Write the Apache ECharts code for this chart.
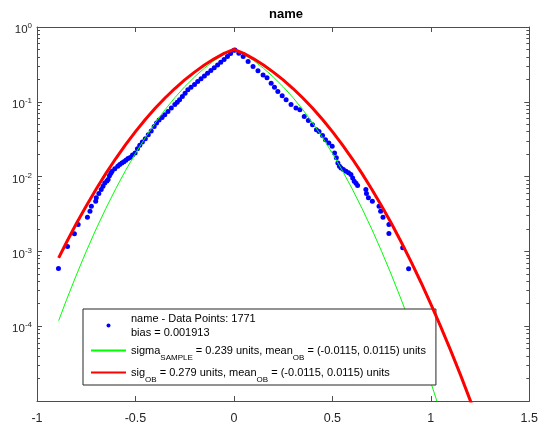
<!DOCTYPE html>
<html><head><meta charset="utf-8">
<script src="https://cdn.jsdelivr.net/npm/echarts@6/dist/echarts.min.js"></script>
<style>html,body{margin:0;padding:0;background:#fff}#c{width:541px;height:426px}</style>
</head><body><div id="c"></div>
<script>
// ---- data ----
const blueX = [-0.891,-0.845,-0.810,-0.791,-0.744,-0.731,-0.724,-0.702,-0.699,-0.686,-0.674,-0.665,-0.656,-0.645,-0.639,-0.632,-0.625,-0.619,-0.605,-0.590,-0.580,-0.569,-0.559,-0.549,-0.538,-0.527,-0.515,-0.502,-0.490,-0.478,-0.465,-0.450,-0.435,-0.420,-0.405,-0.393,-0.380,-0.365,-0.351,-0.335,-0.318,-0.300,-0.288,-0.276,-0.262,-0.248,-0.234,-0.218,-0.200,-0.184,-0.167,-0.150,-0.134,-0.117,-0.100,-0.083,-0.067,-0.050,-0.033,-0.017,0.000,
  0.005,0.025,0.047,0.072,0.097,0.122,0.148,0.168,0.189,0.206,0.223,0.245,0.265,0.290,0.315,0.335,0.357,0.378,0.399,0.419,0.432,0.450,0.465,0.482,0.499,0.511,0.520,0.528,0.536,0.544,0.556,0.569,0.582,0.594,0.603,0.611,0.620,0.628,0.670,0.673,0.683,0.703,0.737,0.745,0.757,0.787,0.787,0.857,0.887];
const blueY = [5.93e-4,1.16e-3,1.72e-3,2.29e-3,2.86e-3,3.45e-3,4.02e-3,4.69e-3,5.20e-3,5.93e-3,6.71e-3,7.41e-3,8.24e-3,8.71e-3,9.12e-3,1.03e-2,1.11e-2,1.18e-2,1.27e-2,1.37e-2,1.45e-2,1.52e-2,1.585e-2,1.65e-2,1.74e-2,1.80e-2,1.95e-2,2.07e-2,2.35e-2,2.62e-2,2.90e-2,3.20e-2,3.63e-2,4.07e-2,4.68e-2,5.20e-2,5.69e-2,6.17e-2,6.71e-2,7.41e-2,8.24e-2,9.23e-2,9.89e-2,0.1064,0.1175,0.1303,0.1445,0.1567,0.1706,0.1866,0.204,0.2213,0.2415,0.263,0.285,0.311,0.339,0.369,0.402,0.442,0.490,
  0.493,0.447,0.402,0.347,0.296,0.260,0.229,0.209,0.1774,0.1567,0.1374,0.1202,0.1064,0.0923,0.0824,0.0782,0.0637,0.0562,0.0493,0.0424,0.0402,0.0355,0.0311,0.0282,0.0254,0.0207,0.0178,0.0152,0.0138,0.01306,0.01245,0.01178,0.01122,0.01064,0.00955,0.00867,0.00813,0.00759,0.00671,0.00593,0.00520,0.00469,0.00402,0.00345,0.00287,0.00229,0.00174,0.00112,0.000587];

const greenX = [-0.89,-0.85,-0.80,-0.75,-0.70,-0.65,-0.60,-0.55,-0.50,-0.45,-0.40,-0.35,-0.30,-0.25,-0.20,-0.15,-0.10,-0.05,0,0.05,0.10,0.15,0.20,0.25,0.30,0.35,0.40,0.45,0.50,0.55,0.60,0.65,0.70,0.75,0.80,0.85,0.90,0.95,1.00,1.05];
const greenY = [1.187e-4,2.257e-4,4.84e-4,1.001e-3,1.986e-3,3.773e-3,6.897e-3,0.01211,0.02047,0.0332,0.0520,0.0783,0.1137,0.1591,0.2150,0.2810,0.3553,0.4355,0.5,0.4355,0.3553,0.2810,0.2150,0.1591,0.1137,0.0783,0.0520,0.0332,0.02047,0.01211,6.897e-3,3.773e-3,1.986e-3,1.001e-3,4.84e-4,2.257e-4,1.006e-4,4.30e-5,1.765e-5,6.95e-6];

const redX = [-0.89,-0.85,-0.80,-0.75,-0.70,-0.65,-0.60,-0.55,-0.50,-0.45,-0.40,-0.35,-0.30,-0.25,-0.20,-0.15,-0.10,-0.05,0,0.05,0.10,0.15,0.20,0.25,0.30,0.35,0.40,0.45,0.50,0.55,0.60,0.65,0.70,0.75,0.80,0.85,0.90,0.95,1.00,1.05,1.10,1.15,1.20,1.25];
const redY = [8.19e-4,1.326e-3,2.358e-3,4.056e-3,6.79e-3,0.01105,0.01745,0.02676,0.0399,0.0580,0.0819,0.1125,0.1505,0.1962,0.2495,0.3097,0.3754,0.4445,0.5,0.4445,0.3754,0.3097,0.2495,0.1962,0.1505,0.1125,0.0819,0.0580,0.0399,0.02676,0.01745,0.01105,6.79e-3,4.056e-3,2.358e-3,1.326e-3,7.24e-4,3.84e-4,1.977e-4,9.88e-5,4.78e-5,2.25e-5,1.02e-5,4.5e-6];

const xTickLabels = ['-1','-0.5','0','0.5','1','1.5'];
const titleText = 'name';
const blueName = 'name - Data Points: 1771';
const blueName2 = 'bias = 0.001913';
const greenName = 'sigmaSAMPLE';
const redName = 'sigOB';
const legendLabels = {};
legendLabels[blueName] = blueName + '\n' + blueName2;
legendLabels[greenName] = 'sigma{sub|SAMPLE} = 0.239 units, mean{sub|OB} = (-0.0115, 0.0115) units';
legendLabels[redName] = 'sig{sub|OB} = 0.279 units, mean{sub|OB} = (-0.0115, 0.0115) units';

// ---- chart ----
const font = '"Liberation Sans", Arial, Helvetica, sans-serif';
const axisCol = '#4d4d4d';
const labCol = '#262626';
const zip = (xs, ys) => xs.map((x, i) => [x, ys[i]]);
const minorExp = [];
for (let e = -5; e < 0; e++) for (let m = 2; m <= 9; m++) minorExp.push(e + Math.log10(m));

const chart = echarts.init(document.getElementById('c'));
const yMajorBase = {type:'log', logBase:10, min:1e-5, max:1, splitLine:{show:false}};
const yMinorBase = {type:'value', min:-5, max:0, splitLine:{show:false}, axisLine:{show:false, onZero:false}, axisLabel:{show:false},
  axisTick:{show:true, inside:true, length:3, customValues:minorExp, lineStyle:{color:axisCol}}};
chart.setOption({
  animation:false,
  backgroundColor:'#fff',
  title:{text:titleText, left:264, top:3,
    textStyle:{fontFamily:font, fontSize:13, fontWeight:'bold', color:'#000'}},
  grid:{left:37, right:6, top:27, bottom:25},
  xAxis:[
    {type:'value', min:-1, max:1.5, interval:0.5, position:'bottom', splitLine:{show:false},
     axisLine:{onZero:false, lineStyle:{color:axisCol}},
     axisTick:{inside:true, length:5, lineStyle:{color:axisCol}},
     axisLabel:{margin:11, color:labCol, fontSize:12.5, fontFamily:font,
       formatter:(v)=>xTickLabels[Math.round((v+1)/0.5)]}},
    {type:'value', min:-1, max:1.5, interval:0.5, position:'top', splitLine:{show:false},
     axisLine:{onZero:false, lineStyle:{color:axisCol}},
     axisTick:{inside:true, length:5, lineStyle:{color:axisCol}}, axisLabel:{show:false}}
  ],
  yAxis:[
    Object.assign({}, yMajorBase, {position:'left',
      axisLine:{show:true, onZero:false, lineStyle:{color:axisCol}},
      axisTick:{show:true, inside:true, length:5, lineStyle:{color:axisCol}},
      axisLabel:{showMinLabel:false, margin:5, color:labCol, fontSize:11.5, fontFamily:font, lineHeight:16, padding:[6,0,0,0],
        formatter:(v)=>'10{sup|' + Math.round(Math.log10(v)) + '}',
        rich:{sup:{fontSize:8, lineHeight:8, verticalAlign:'top', color:labCol, fontFamily:font}}}}),
    Object.assign({}, yMinorBase, {position:'left'}),
    Object.assign({}, yMajorBase, {position:'right',
      axisLine:{show:true, onZero:false, lineStyle:{color:axisCol}},
      axisTick:{show:true, inside:true, length:5, lineStyle:{color:axisCol}}, axisLabel:{show:false}}),
    Object.assign({}, yMinorBase, {position:'right'})
  ],
  legend:{
    orient:'vertical', left:83, top:309, itemWidth:35, itemHeight:4, itemGap:0,
    padding:[2.5,10,1.5,7], borderColor:'#262626', borderWidth:1, backgroundColor:'#fff',
    selectedMode:false,
    textStyle:{fontFamily:font, fontSize:11, color:'#000', lineHeight:22,
      rich:{sub:{fontSize:8, lineHeight:12, verticalAlign:'bottom', fontFamily:font, color:'#000'}}},
    data:[
      {name:blueName, icon:'circle', textStyle:{lineHeight:14}},
      {name:greenName, itemStyle:{opacity:0}},
      {name:redName, itemStyle:{opacity:0}}
    ],
    formatter:(n)=>legendLabels[n]
  },
  series:[
    {name:blueName, type:'scatter', xAxisIndex:0, yAxisIndex:0, symbol:'circle', symbolSize:5,
     itemStyle:{color:'#0000ff', opacity:1}, data:zip(blueX, blueY), z:2},
    {name:greenName, type:'line', xAxisIndex:0, yAxisIndex:0, symbol:'none', showSymbol:false,
     lineStyle:{color:'#00ff00', width:1}, itemStyle:{color:'#00ff00'}, data:zip(greenX, greenY), z:3},
    {name:redName, type:'line', xAxisIndex:0, yAxisIndex:0, symbol:'none', showSymbol:false,
     lineStyle:{color:'#ff0000', width:3}, itemStyle:{color:'#ff0000'}, data:zip(redX, redY), z:4}
  ]
});
</script></body></html>
